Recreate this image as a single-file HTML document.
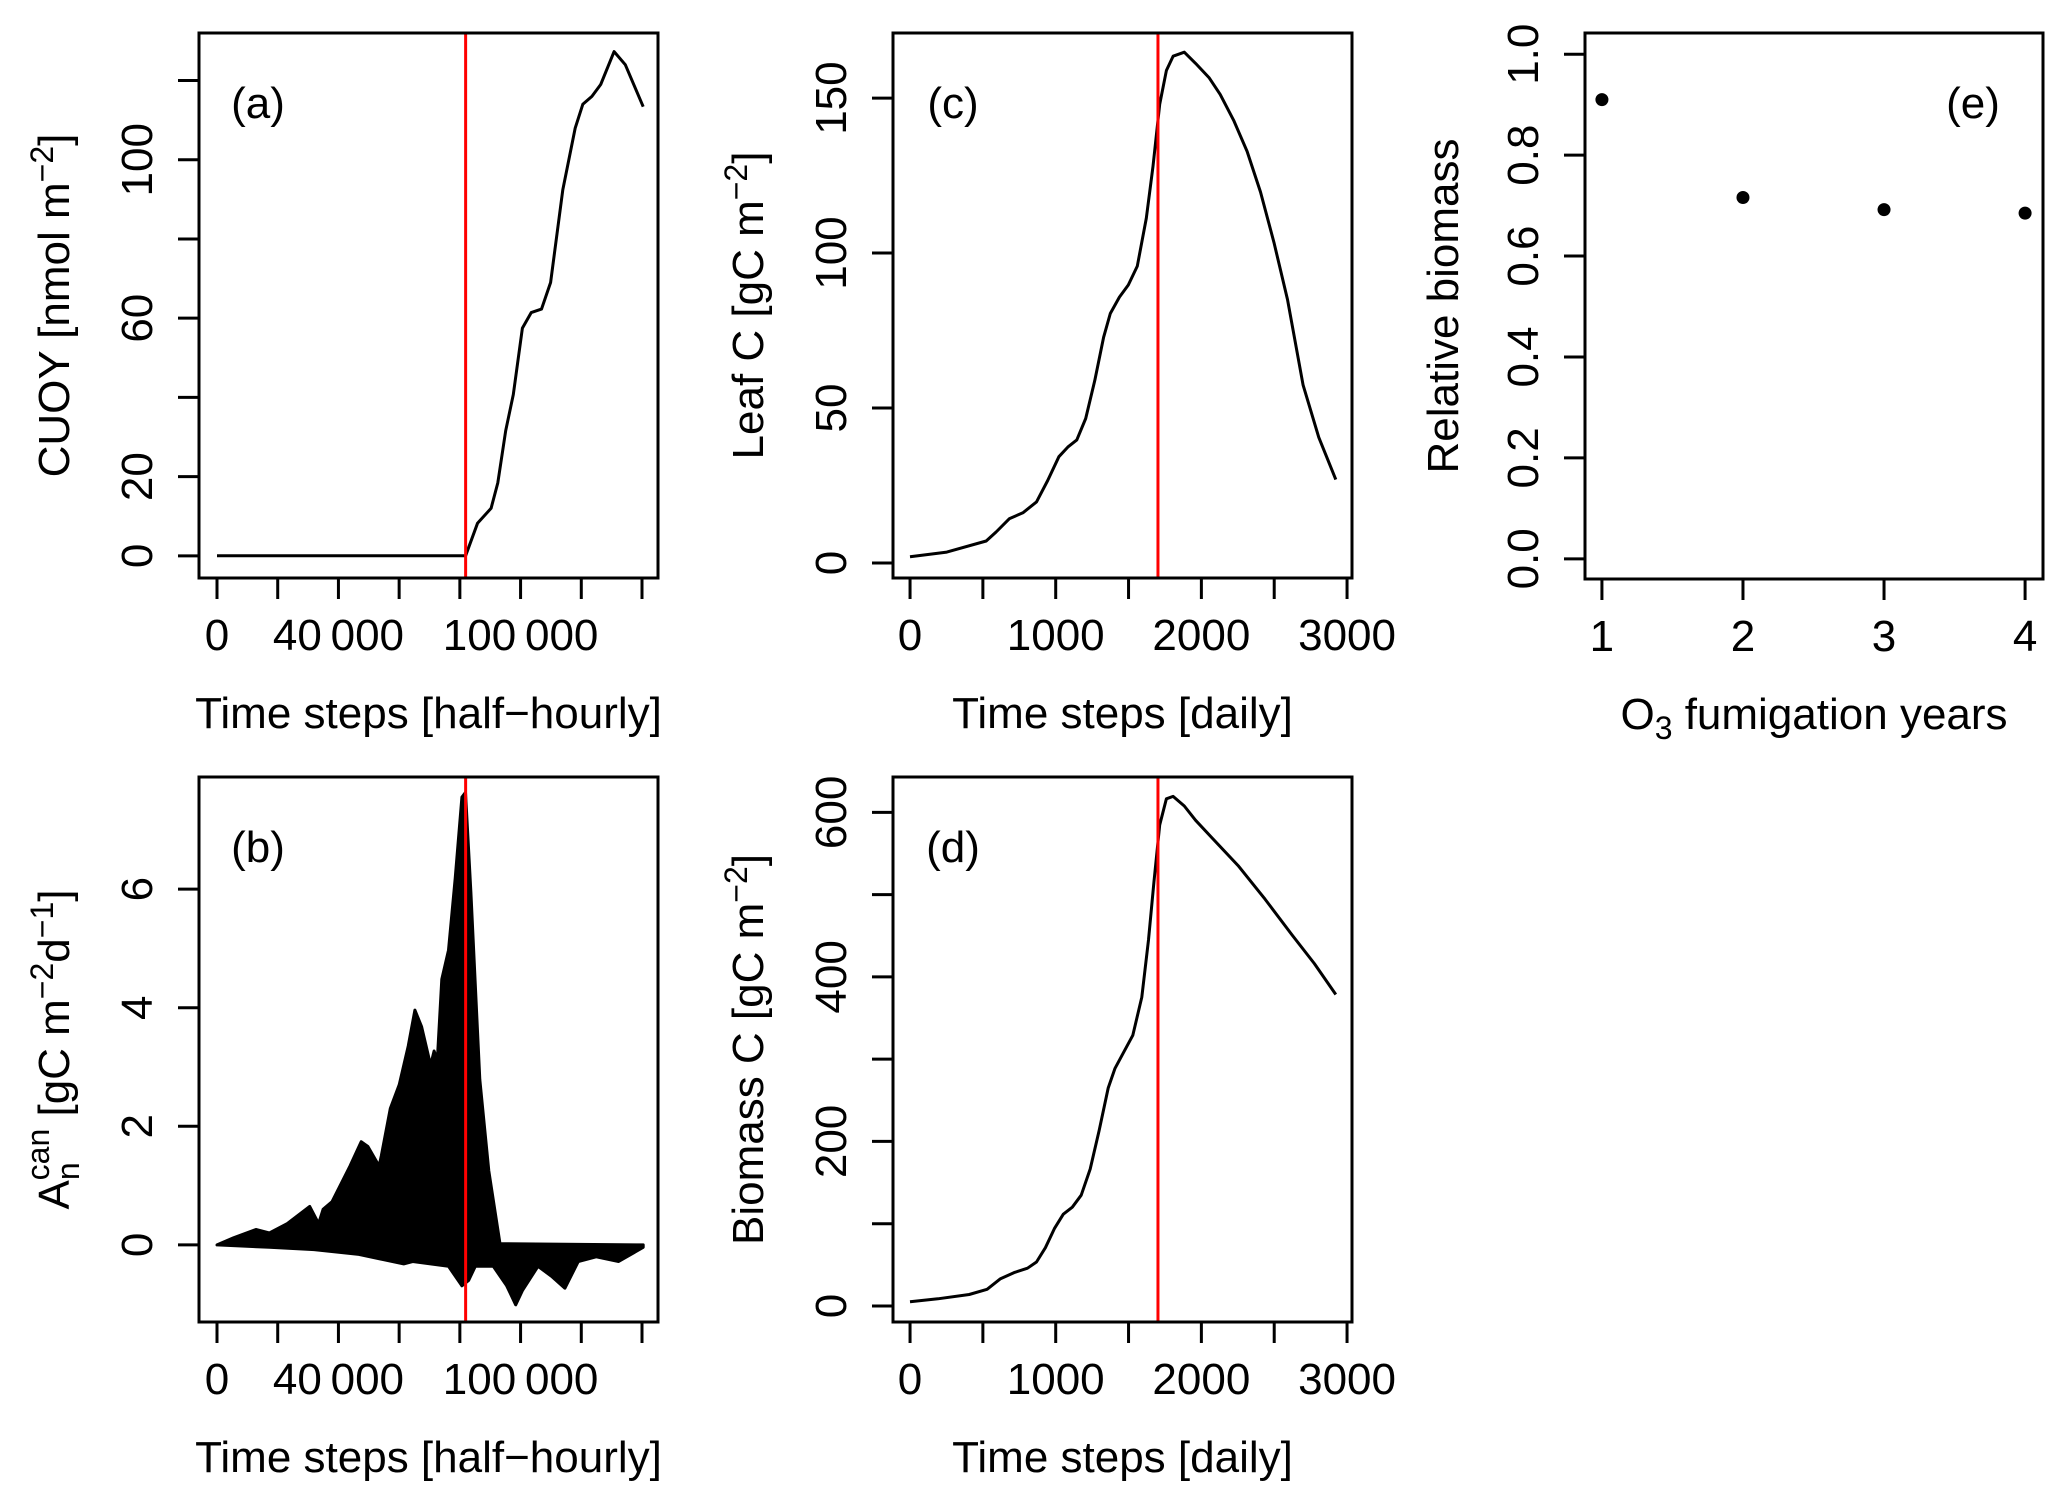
<!DOCTYPE html>
<html><head><meta charset="utf-8">
<style>
html,body{margin:0;padding:0;background:#fff;}
svg{display:block;font-family:"Liberation Sans",Arial,sans-serif;}
</style></head>
<body>
<svg id="fig" width="2067" height="1497" viewBox="0 0 2067 1497" xmlns="http://www.w3.org/2000/svg"></svg>
<script>
// ---- data ----
const aX=[0,81900,85800,90300,92500,95100,97600,100600,103500,106900,109900,113900,118000,120500,123500,126400,130800,134500,140400];
const aY=[0,0,8.2,12,18.4,31.6,40.7,57.5,61.4,62.3,69,92.4,108,114,116,119,127.3,124,113.4];
const bUpX=[0,5460,12830,17260,23160,30530,33480,34960,37900,43800,47490,49700,53390,54130,57080,60030,62980,65190,67400,70350,71530,72570,74040,76250,78470,80680,81860,83630,86580,89530,93220,140400];
const bUpY=[0,0.12,0.26,0.2,0.36,0.65,0.36,0.6,0.73,1.33,1.74,1.66,1.33,1.5,2.3,2.7,3.35,3.96,3.68,3.03,3.27,3.11,4.48,4.97,6.18,7.55,7.63,5.94,2.79,1.25,0.02,0];
const bLoX=[0,17260,32000,46750,61500,64450,76250,80680,82890,85100,91000,95430,98380,100600,105750,110180,114600,119000,124900,132300,140400];
const bLoY=[0,-0.04,-0.08,-0.16,-0.32,-0.28,-0.36,-0.69,-0.6,-0.36,-0.36,-0.69,-1.01,-0.77,-0.36,-0.53,-0.73,-0.28,-0.2,-0.28,-0.04];
const cX=[0,252,523,591,683,775,868,945,1022,1083,1145,1206,1268,1329,1375,1437,1498,1560,1622,1668,1714,1760,1806,1883,1960,2052,2129,2222,2314,2406,2498,2591,2698,2806,2923];
const cY=[2.0,3.5,7.1,10.0,14.3,16.2,19.7,26.6,34.3,37.4,39.7,46.6,58.9,72.8,80.5,85.8,89.7,95.8,111.2,128,148,158.9,163.5,164.8,161.2,156.6,151.2,142.8,132.8,119.7,103.5,85,57.4,40.5,26.9];
const dX=[0,191,406,529,621,714,806,868,929,991,1052,1114,1175,1237,1298,1360,1406,1468,1529,1591,1637,1674,1714,1760,1806,1883,1960,2068,2252,2437,2622,2775,2923];
const dY=[5.2,8.7,13.9,20.3,33.1,40.6,45.9,53.4,70.8,94,111.5,120.1,134.6,166.5,213,265,288.5,308.9,329,375.3,445,514.9,584.6,616.5,619.4,607.8,590.4,570,535.3,494.6,451,416.3,378.6];
const eX=[1,2,3,4];
const eY=[0.910,0.716,0.692,0.685];
const redHalfHourly=81900;
const redDaily=1702;
const aTicksY=[0,20,40,60,80,100,120];
const aLabelsY=["0","20","","60","","100",""];
const hhTicks=[0,20000,40000,60000,80000,100000,120000,140000];
const hhLabels=["0","","40\u2009000","","","100\u2009000","",""];
const bTicksY=[0,2,4,6];
const bLabelsY=["0","2","4","6"];
const cTicksY=[0,50,100,150];
const cLabelsY=["0","50","100","150"];
const dTicksY=[0,100,200,300,400,500,600];
const dLabelsY=["0","","200","","400","","600"];
const dayTicks=[0,500,1000,1500,2000,2500,3000];
const dayLabels=["0","","1000","","2000","","3000"];
const eTicksY=[0,0.2,0.4,0.6,0.8,1.0];
const eLabelsY=["0.0","0.2","0.4","0.6","0.8","1.0"];
const eTicksX=[1,2,3,4];
const eLabelsX=["1","2","3","4"];

const NS="http://www.w3.org/2000/svg";
const svg=document.getElementById('fig');
function mk(tag,attrs,parent){const e=document.createElementNS(NS,tag);for(const k in attrs)e.setAttribute(k,attrs[k]);(parent||svg).appendChild(e);return e;}
const FS=44;

function panel(name,L,R,T,B,xmin,xmax,ymin,ymax){
  const g=mk('g',{});
  
  
  return {g,L,R,T,B,sx:v=>L+(v-xmin)/(xmax-xmin)*(R-L),sy:v=>B-(v-ymin)/(ymax-ymin)*(B-T)};
}
function frame(p){
  const r=mk('rect',{x:p.L,y:p.T,width:p.R-p.L,height:p.B-p.T,fill:'none',stroke:'#000','stroke-width':3},p.g);
  
  
}
function xaxis(p,ticks,labels){
  const g=mk('g',{},p.g);
  
  
  ticks.forEach((t,i)=>{
    const x=p.sx(t);
    mk('line',{x1:x,x2:x,y1:p.B,y2:p.B+21,stroke:'#000','stroke-width':3},g);
    if(labels[i]){const tx=mk('text',{x:x,y:p.B+72,'font-size':FS,'text-anchor':'middle'},g);tx.textContent=labels[i];
      
      }
  });
}
function yaxis(p,ticks,labels){
  const g=mk('g',{},p.g);
  
  
  ticks.forEach((t,i)=>{
    const y=p.sy(t);
    mk('line',{x1:p.L-21,x2:p.L,y1:y,y2:y,stroke:'#000','stroke-width':3},g);
    if(labels[i]){const bx=p.L-47;const tx=mk('text',{x:bx,y:y,'font-size':FS,'text-anchor':'middle',transform:`rotate(-90 ${bx} ${y})`},g);tx.textContent=labels[i];
      
      }
  });
}
function xtitle(p,html,name){
  const t=mk('text',{x:(p.L+p.R)/2,y:p.B+150,'font-size':FS,'text-anchor':'middle'},p.g);
  t.innerHTML=html;
  
  
}
function ytitle(p,html,off){
  const x=p.L-(off||130),y=(p.T+p.B)/2;
  const t=mk('text',{x:x,y:y,'font-size':FS,'text-anchor':'middle',transform:`rotate(-90 ${x} ${y})`},p.g);
  t.innerHTML=html;
  
  
}
function tag(p,txt,x,y){
  const t=mk('text',{x:x,y:y,'font-size':FS,'text-anchor':'middle'},p.g);
  t.textContent=txt;
  
  
}
function line(p,xs,ys,name){
  const d=xs.map((x,i)=>(i?'L':'M')+p.sx(x).toFixed(1)+' '+p.sy(ys[i]).toFixed(1)).join(' ');
  const e=mk('path',{d:d,fill:'none',stroke:'#000','stroke-width':3,'stroke-linejoin':'round'},p.g);
  
  
}
function vline(p,x,name){
  const e=mk('line',{x1:p.sx(x),x2:p.sx(x),y1:p.T,y2:p.B,stroke:'#ff0000','stroke-width':3},p.g);
  
  
}

// Panel a
const pa=panel('panel-a-cuoy',199,658,33,578,-5930,145270,-5.6,132);
line(pa,aX,aY,'cuoy-line');
vline(pa,redHalfHourly,'ozone-start-line');
frame(pa);xaxis(pa,hhTicks,hhLabels);yaxis(pa,aTicksY,aLabelsY);
xtitle(pa,'Time steps [half\u2212hourly]');
ytitle(pa,'CUOY [nmol m<tspan dy="-16" font-size="32">\u22122</tspan><tspan dy="16">]</tspan>');
tag(pa,'(a)',258,118);

// Panel b
const pb=panel('panel-b-net-assimilation',199,658,777,1322,-5930,145270,-1.30,7.89);
{
  let d='';
  bUpX.forEach((x,i)=>{d+=(i?'L':'M')+pb.sx(x).toFixed(1)+' '+pb.sy(bUpY[i]).toFixed(1)+' ';});
  for(let i=bLoX.length-1;i>=0;i--){d+='L'+pb.sx(bLoX[i]).toFixed(1)+' '+pb.sy(bLoY[i]).toFixed(1)+' ';}
  d+='Z';
  const e=mk('path',{d:d,fill:'#000',stroke:'#000','stroke-width':3,'stroke-linejoin':'round'},pb.g);
  
  
}
vline(pb,redHalfHourly,'ozone-start-line');
frame(pb);xaxis(pb,hhTicks,hhLabels);yaxis(pb,bTicksY,bLabelsY);
xtitle(pb,'Time steps [half\u2212hourly]');
ytitle(pb,'A<tspan dy="10" font-size="32">n</tspan><tspan dy="-30" dx="-18" font-size="32">can</tspan><tspan dy="20"> [gC m</tspan><tspan dy="-16" font-size="32">\u22122</tspan><tspan dy="16">d</tspan><tspan dy="-16" font-size="32">\u22121</tspan><tspan dy="16">]</tspan>');
tag(pb,'(b)',258,862);

// Panel c
const pc=panel('panel-c-leaf-carbon',893,1352,33,578,-117,3034,-4.85,171);
line(pc,cX,cY,'leaf-carbon-line');
vline(pc,redDaily,'ozone-start-line');
frame(pc);xaxis(pc,dayTicks,dayLabels);yaxis(pc,cTicksY,cLabelsY);
xtitle(pc,'Time steps [daily]');
ytitle(pc,'Leaf C [gC m<tspan dy="-16" font-size="32">\u22122</tspan><tspan dy="16">]</tspan>');
tag(pc,'(c)',953,118);

// Panel d
const pd=panel('panel-d-biomass-carbon',893,1352,777,1322,-117,3034,-19.5,643);
line(pd,dX,dY,'biomass-carbon-line');
vline(pd,redDaily,'ozone-start-line');
frame(pd);xaxis(pd,dayTicks,dayLabels);yaxis(pd,dTicksY,dLabelsY);
xtitle(pd,'Time steps [daily]');
ytitle(pd,'Biomass C [gC m<tspan dy="-16" font-size="32">\u22122</tspan><tspan dy="16">]</tspan>');
tag(pd,'(d)',953,862);

// Panel e
const pe=panel('panel-e-relative-biomass',1585,2043,33,579,0.88,4.127,-0.04,1.042);
frame(pe);xaxis(pe,eTicksX,eLabelsX);yaxis(pe,eTicksY,eLabelsY);
eX.forEach((x,i)=>{
  const c=mk('circle',{cx:pe.sx(x),cy:pe.sy(eY[i]),r:6.5,fill:'#000'},pe.g);
  
  
});
xtitle(pe,'O<tspan dy="10" font-size="32">3</tspan><tspan dy="-10"> fumigation years</tspan>');
ytitle(pe,'Relative biomass',127);
tag(pe,'(e)',1973,118);
</script>
</body></html>
